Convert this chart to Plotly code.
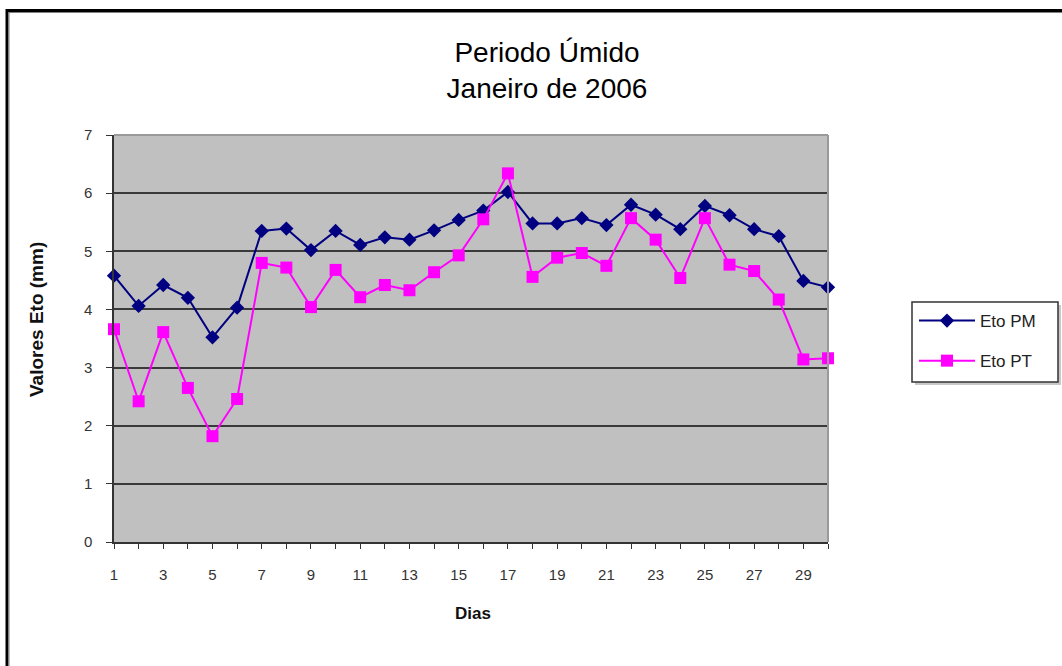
import plotly.graph_objects as go

dias = list(range(1, 31))
eto_pm = [4.58, 4.06, 4.42, 4.20, 3.52, 4.03, 5.35, 5.39, 5.02, 5.35,
          5.11, 5.24, 5.20, 5.36, 5.54, 5.70, 6.02, 5.48, 5.48, 5.57,
          5.45, 5.80, 5.63, 5.38, 5.78, 5.62, 5.38, 5.26, 4.49, 4.38]
eto_pt = [3.66, 2.42, 3.61, 2.65, 1.82, 2.46, 4.80, 4.72, 4.04, 4.68,
          4.21, 4.42, 4.33, 4.64, 4.93, 5.55, 6.34, 4.56, 4.89, 4.97,
          4.75, 5.57, 5.20, 4.54, 5.57, 4.77, 4.66, 4.17, 3.14, 3.16]
x_ticktext = [str(d) if d % 2 == 1 else "" for d in dias]
y_ticks = [0, 1, 2, 3, 4, 5, 6, 7]

W, H = 1062, 666
L, R, T, B = 114, 234, 135, 124
pw, ph = W - L - R, H - T - B

def px_x(px):
    return (px - L) / pw

def px_y(py):
    return (H - B - py) / ph

font = "Liberation Sans, Arial, sans-serif"

fig = go.Figure()
fig.add_trace(go.Scatter(
    x=dias, y=eto_pm, name="Eto PM", mode="lines+markers",
    line=dict(color="#000080", width=2),
    marker=dict(symbol="diamond", size=11, color="#000080"),
    legendgroup="a", cliponaxis=False))
fig.add_trace(go.Scatter(
    x=dias, y=eto_pt, name="Eto PT", mode="lines+markers",
    line=dict(color="#FF00FF", width=2),
    marker=dict(symbol="square", size=12, color="#FF00FF"),
    legendgroup="b", cliponaxis=False))

fig.update_layout(
    width=W, height=H,
    margin=dict(l=L, r=R, t=T, b=B),
    paper_bgcolor="white", plot_bgcolor="#C0C0C0",
    font=dict(family=font, color="#222222", size=15),
    title=dict(text="Periodo Úmido<br>Janeiro de 2006",
               x=547 / W, xref="container", xanchor="center",
               y=1 - 62 / H, yref="container", yanchor="middle",
               font=dict(size=28, color="#000000", family=font)),
    showlegend=True,
    legend=dict(x=px_x(914), y=px_y(303), xanchor="left", yanchor="top",
                bgcolor="rgba(0,0,0,0)", borderwidth=0,
                font=dict(size=17, color="#222222"),
                tracegroupgap=15, itemwidth=56),
    xaxis=dict(range=[1, 30], tickmode="array", tickvals=dias,
               ticktext=x_ticktext, ticks="outside", ticklen=5,
               tickcolor="#333333", showgrid=False, zeroline=False,
               showline=True, linecolor="#333333", linewidth=1.5,
               ticklabelstandoff=13, tickfont=dict(size=15, color="#333333")),
    yaxis=dict(range=[0, 7], tickmode="array", tickvals=y_ticks,
               ticks="outside", ticklen=6, tickcolor="#333333",
               showgrid=True, gridcolor="#3a3a3a", gridwidth=2,
               zeroline=False, showline=True, linecolor="#333333",
               linewidth=1.5, ticklabelstandoff=11,
               tickfont=dict(size=15, color="#333333")),
)

# plot frame top/right (light gray)
fig.add_shape(type="line", xref="paper", yref="paper", x0=0, x1=1, y0=1, y1=1,
              line=dict(color="#9a9a9a", width=2), layer="above")
fig.add_shape(type="line", xref="paper", yref="paper", x0=1, x1=1, y0=0, y1=1,
              line=dict(color="#9a9a9a", width=2), layer="above")

# legend box with shadow
fig.add_shape(type="rect", xref="paper", yref="paper",
              x0=px_x(915), x1=px_x(1061), y0=px_y(385), y1=px_y(305),
              fillcolor="#c8c8c8", line=dict(width=0), layer="above")
fig.add_shape(type="rect", xref="paper", yref="paper",
              x0=px_x(912), x1=px_x(1058), y0=px_y(382), y1=px_y(302),
              fillcolor="white", line=dict(color="#333333", width=1.5),
              layer="above")

# outer border of chart image
fig.add_shape(type="line", xref="paper", yref="paper",
              x0=px_x(6), x1=px_x(1062), y0=px_y(10.5), y1=px_y(10.5),
              line=dict(color="#000000", width=3), layer="above")
fig.add_shape(type="line", xref="paper", yref="paper",
              x0=px_x(7), x1=px_x(7), y0=px_y(9), y1=px_y(666),
              line=dict(color="#000000", width=3), layer="above")
fig.add_shape(type="line", xref="paper", yref="paper",
              x0=px_x(9), x1=px_x(1062), y0=px_y(12.5), y1=px_y(12.5),
              line=dict(color="#808080", width=1), layer="above")
fig.add_shape(type="line", xref="paper", yref="paper",
              x0=px_x(9), x1=px_x(9), y0=px_y(12), y1=px_y(666),
              line=dict(color="#808080", width=1), layer="above")

fig.add_annotation(text="<b>Valores Eto (mm)</b>", xref="paper", yref="paper",
                   x=px_x(36), y=px_y(320), xanchor="center", yanchor="middle",
                   showarrow=False, textangle=-90,
                   font=dict(size=19, color="#111111"))
fig.add_annotation(text="<b>Dias</b>", xref="paper", yref="paper",
                   x=px_x(473), y=px_y(613), xanchor="center", yanchor="middle",
                   showarrow=False,
                   font=dict(size=17, color="#111111"))

fig.write_html("out.html", config={"displayModeBar": False},
               post_script="document.body.style.margin='0px';")
